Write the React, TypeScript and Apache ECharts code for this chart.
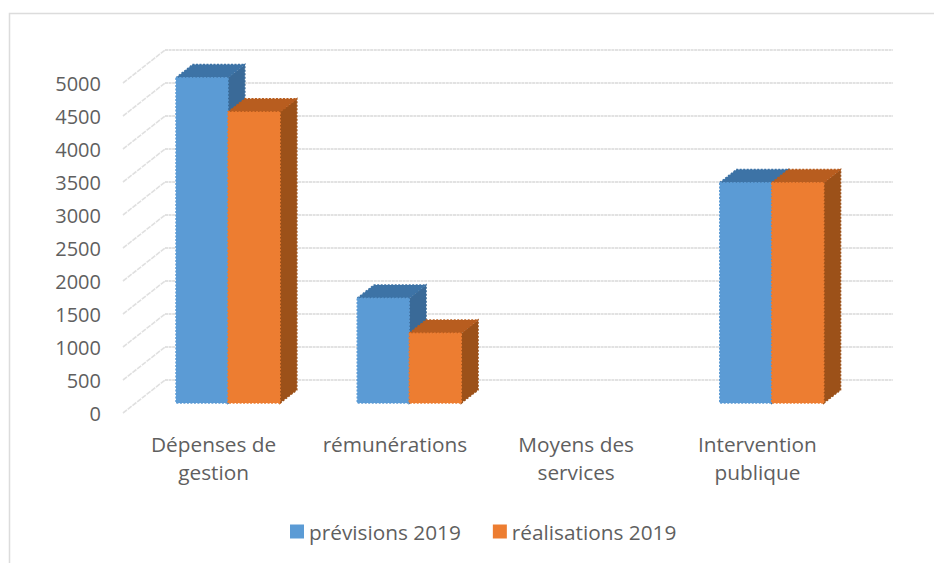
import React, { useEffect, useRef } from "react";
import * as echarts from "echarts";

const categories = ["Dépenses de\ngestion", "rémunérations", "Moyens des\nservices", "Intervention\npublique"];
const previsions = [4930, 1590, 0, 3340];
const realisations = [4410, 1060, 0, 3340];
const seriesNames = ["prévisions 2019", "réalisations 2019"];
const yTicks = [0, 500, 1000, 1500, 2000, 2500, 3000, 3500, 4000, 4500, 5000];

const DX = 42;
const DY = 33;
const BAR_W = 52;
const FONT = "'Open Sans', sans-serif";
const TEXT = "#5f5f5f";

function bar3d(sign: number, front: string, top: string, side: string) {
  return (_p: any, api: any) => {
    const cat = api.value(0);
    const val = api.value(1);
    if (!val) return { type: "group", children: [] };
    const base = api.coord([cat, 0]);
    const head = api.coord([cat, val]);
    const ox = DX * 0.3 + 1.8;
    const oy = -DY * 0.3;
    const dx = DX * 0.4;
    const dy = -DY * 0.4;
    const x0 = base[0] + ox + (sign < 0 ? -BAR_W : 0);
    const x1 = x0 + BAR_W;
    const yb = base[1] + oy;
    const yt = head[1] + oy;
    const edge = (c: string) => ({ fill: c, stroke: c, lineWidth: 1.5, lineDash: [2, 1.5] });
    return {
      type: "group",
      children: [
        { type: "polygon", shape: { points: [[x1, yb], [x1 + dx, yb + dy], [x1 + dx, yt + dy], [x1, yt]] }, style: edge(side) },
        { type: "polygon", shape: { points: [[x0, yt], [x0 + dx, yt + dy], [x1 + dx, yt + dy], [x1, yt]] }, style: edge(top) },
        { type: "rect", shape: { x: x0, y: yt, width: BAR_W, height: yb - yt }, style: edge(front) },
      ],
    };
  };
}

function diagonals(_p: any, api: any) {
  const p = api.coord([0, api.value(1)]);
  const x = p[0] - api.size([1, 0])[0] / 2;
  return {
    type: "line",
    shape: { x1: x, y1: p[1], x2: x + DX, y2: p[1] - DY },
    style: { stroke: "#e0e0e0", lineWidth: 1.6, lineDash: [5, 1] },
  };
}

export default function App() {
  const ref = useRef<HTMLDivElement>(null);
  useEffect(() => {
    const chart = echarts.init(ref.current!, undefined, { renderer: "svg" });
    chart.setOption({
      animation: false,
      backgroundColor: "#ffffff",
      textStyle: { fontFamily: FONT },
      grid: [
        { left: 123, top: 83, width: 725, height: 330 },
        { left: 165, top: 50, width: 728, height: 330 },
      ],
      xAxis: [
        {
          type: "category",
          gridIndex: 0,
          data: categories,
          axisLine: { show: false },
          axisTick: { show: false },
          axisLabel: { color: TEXT, fontSize: 20.8, fontFamily: FONT, margin: 17, lineHeight: 28, interval: 0 },
        },
        { type: "category", gridIndex: 1, data: categories, show: false },
      ],
      yAxis: [
        {
          type: "value",
          gridIndex: 0,
          min: 0,
          max: 5000,
          interval: 500,
          axisLine: { show: false },
          axisTick: { show: false },
          splitLine: { show: false },
          axisLabel: { color: TEXT, fontSize: 20, fontFamily: FONT, margin: 22, formatter: (v: number) => String(v) },
        },
        {
          type: "value",
          gridIndex: 1,
          min: 0,
          max: 5000,
          interval: 500,
          axisLine: { show: false },
          axisTick: { show: false },
          axisLabel: { show: false },
          splitLine: { show: true, lineStyle: { color: "#e2e2e2", width: 2, type: [3, 0.6] } },
        },
      ],
      legend: {
        left: 285,
        top: 516,
        icon: "rect",
        itemWidth: 14,
        itemHeight: 14,
        itemGap: 32,
        data: seriesNames,
        textStyle: { color: TEXT, fontSize: 20.8, fontFamily: FONT },
      },
      graphic: [
        {
          type: "polyline",
          silent: true,
          shape: { points: [[9.5, 563], [9.5, 13.5], [934, 13.5]] },
          style: { stroke: "#dcdcdc", lineWidth: 1.5, fill: "none" },
        },
      ],
      series: [
        {
          type: "custom",
          name: "axes",
          silent: true,
          renderItem: diagonals,
          data: yTicks.map((t) => [0, t]),
          encode: { x: 0, y: 1 },
          z: 1,
        },
        {
          type: "custom",
          name: seriesNames[0],
          itemStyle: { color: "#5b9bd5" },
          renderItem: bar3d(-1, "#5b9bd5", "#3d73a6", "#3a6a98"),
          data: previsions.map((v, i) => [i, v]),
          encode: { x: 0, y: 1 },
          z: 3,
        },
        {
          type: "custom",
          name: seriesNames[1],
          itemStyle: { color: "#ed7d31" },
          renderItem: bar3d(1, "#ed7d31", "#b85d1f", "#9c5119"),
          data: realisations.map((v, i) => [i, v]),
          encode: { x: 0, y: 1 },
          z: 4,
        },
      ],
    });
    return () => chart.dispose();
  }, []);
  return <div ref={ref} style={{ position: "absolute", left: 0, top: 0, width: 934, height: 563 }} />;
}
